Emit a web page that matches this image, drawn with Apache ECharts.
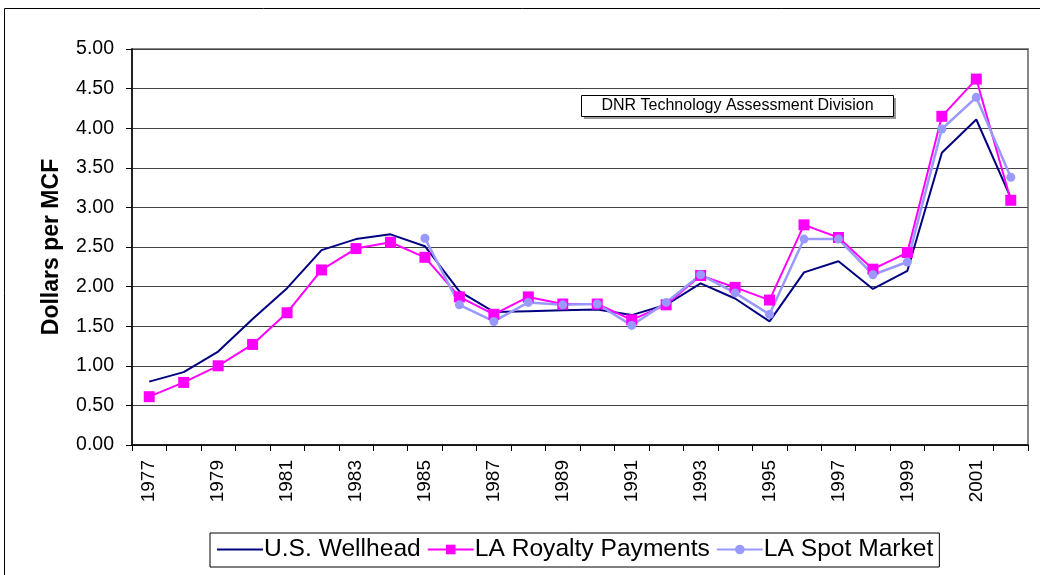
<!DOCTYPE html>
<html>
<head>
<meta charset="utf-8">
<script src="https://cdn.jsdelivr.net/npm/echarts@6/dist/echarts.min.js"></script>
<style>
html,body{margin:0;padding:0;background:#fff;}
#chart{width:1040px;height:575px;}
</style>
</head>
<body>
<div id="chart"></div>
<script>
const years = ['1977','1978','1979','1980','1981','1982','1983','1984','1985','1986','1987','1988','1989','1990','1991','1992','1993','1994','1995','1996','1997','1998','1999','2000','2001','2002'];
const usWellhead = [0.80,0.92,1.18,1.59,1.98,2.46,2.60,2.66,2.51,1.94,1.68,1.69,1.70,1.71,1.64,1.77,2.04,1.85,1.56,2.18,2.32,1.97,2.20,3.69,4.11,3.12];
const laRoyalty = [0.61,0.79,1.00,1.27,1.67,2.21,2.48,2.56,2.37,1.87,1.65,1.87,1.78,1.78,1.58,1.77,2.14,1.99,1.83,2.78,2.62,2.22,2.43,4.15,4.62,3.09];
const laSpot = [null,null,null,null,null,null,null,null,2.61,1.77,1.56,1.80,1.77,1.78,1.51,1.80,2.15,1.92,1.65,2.60,2.60,2.15,2.31,3.99,4.39,3.38];
const seriesNames = ['U.S. Wellhead','LA Royalty Payments','LA Spot Market'];
const yAxisTitle = 'Dollars per MCF';
const noteText = 'DNR Technology Assessment Division';

const font = '"Liberation Sans", Arial, sans-serif';
const chart = echarts.init(document.getElementById('chart'), null, {renderer:'canvas'});
chart.setOption({
  animation: false,
  backgroundColor: '#fff',
  textStyle: {fontFamily: font},
  grid: {left: 132, right: 12, top: 49, bottom: 130, show: true, borderColor: '#888', borderWidth: 2, backgroundColor: 'transparent'},
  graphic: [
    {type: 'rect', shape: {x: 4.5, y: 8.5, width: 1100, height: 600}, style: {fill: 'none', stroke: '#000', lineWidth: 1}, z: 0},
    {type: 'rect', shape: {x: 584, y: 98, width: 312, height: 21}, style: {fill: '#999'}, z: 10},
    {type: 'rect', shape: {x: 581.5, y: 95.5, width: 312, height: 21}, style: {fill: '#fff', stroke: '#000', lineWidth: 1}, z: 11},
    {type: 'text', x: 737.5, y: 106, style: {text: noteText, fontSize: 16, fontFamily: font, fill: '#000', textAlign: 'center', textVerticalAlign: 'middle'}, z: 12}
  ],
  legend: {
    data: [
      {name: seriesNames[0], itemStyle: {opacity: 0}},
      {name: seriesNames[1]},
      {name: seriesNames[2]}
    ],
    left: 210, top: 533,
    borderColor: '#000', borderWidth: 1,
    padding: [4, 6, 5, 6],
    itemWidth: 46, itemHeight: 12, itemGap: 6,
    textStyle: {fontSize: 24.6, color: '#000', fontFamily: font, padding: [0,0,0,-4]}
  },
  xAxis: {
    type: 'category',
    data: years,
    boundaryGap: true,
    axisLine: {lineStyle: {color: '#000', width: 1.5}},
    axisTick: {show: true, interval: 0, length: 6, lineStyle: {color: '#000'}},
    axisLabel: {interval: 1, rotate: 90, fontSize: 19, color: '#000', margin: 15, fontFamily: font},
    splitLine: {show: false}
  },
  yAxis: {
    type: 'value',
    min: 0, max: 5, interval: 0.5,
    name: yAxisTitle,
    nameLocation: 'middle',
    nameGap: 69,
    nameTextStyle: {fontSize: 23, fontWeight: 'bold', color: '#000', fontFamily: font},
    axisLine: {show: true, lineStyle: {color: '#000', width: 1.5}},
    axisTick: {show: true, length: 6, lineStyle: {color: '#000'}},
    axisLabel: {fontSize: 19.5, color: '#000', margin: 18, fontFamily: font, formatter: v => v.toFixed(2)},
    splitLine: {show: true, lineStyle: {color: '#444', width: 1}}
  },
  series: [
    {name: seriesNames[0], type: 'line', data: usWellhead, symbol: 'none', lineStyle: {color: '#000080', width: 2}, itemStyle: {color: '#000080'}},
    {name: seriesNames[1], type: 'line', data: laRoyalty, symbol: 'rect', symbolSize: 11, lineStyle: {color: '#FF00FF', width: 2}, itemStyle: {color: '#FF00FF'}},
    {name: seriesNames[2], type: 'line', data: laSpot, symbol: 'circle', symbolSize: 9, lineStyle: {color: '#9999FF', width: 2.5}, itemStyle: {color: '#9999FF'}}
  ]
});
</script>
</body>
</html>
